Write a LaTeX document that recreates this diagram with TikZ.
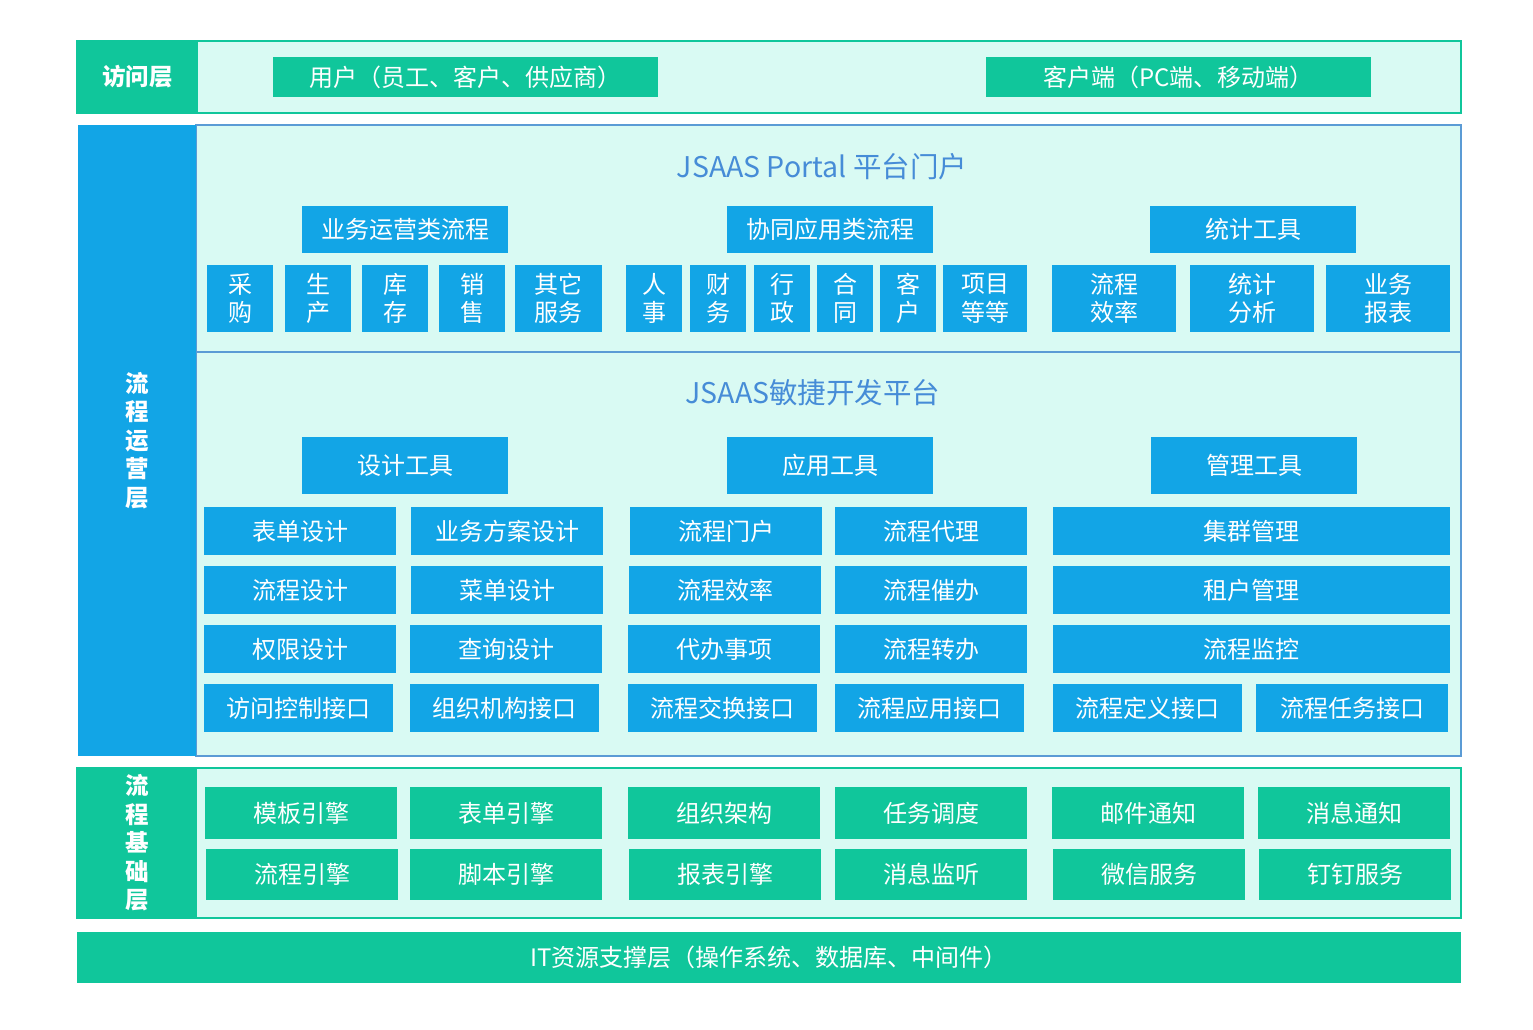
\documentclass[tikz,border=0pt]{standalone}
\usepackage{fontspec}
\setmainfont{Noto Sans CJK SC}
\definecolor{cgreen}{RGB}{16,198,155}
\definecolor{cblue}{RGB}{18,165,230}
\definecolor{clight}{RGB}{217,250,243}
\definecolor{cborder}{RGB}{91,155,213}
\definecolor{ctitle}{RGB}{70,140,215}
\newcommand\bx[7]{\node[#6, minimum width={(#4-#2)*1pt}, minimum height={(#5-#3)*1pt}] (#1) at ({(#2+#4)/2},{(#3+#5)/2}) {#7};}
\tikzset{
  base/.style={rectangle, inner sep=0pt, outer sep=0pt, align=center},
  gbox/.style={base, fill=cgreen, text=white, font=\fontsize{24}{28}\selectfont},
  bbox/.style={base, fill=cblue, text=white, font=\fontsize{24}{28}\selectfont},
  sbox/.style={base, fill=cblue, text=white, font=\fontsize{24}{28.5}\selectfont},
  gpanel/.style={base, fill=clight, draw=cgreen, line width=2pt},
  bpanel/.style={base, fill=clight, draw=cborder, line width=2pt},
  glabel/.style={base, fill=cgreen, text=white, font=\bfseries\fontsize{23.5}{28.5}\selectfont},
  blabel/.style={base, fill=cblue, text=white, font=\bfseries\fontsize{23.5}{28.5}\selectfont},
  ttl/.style={base, text=ctitle, font=\fontsize{28.5}{32}\selectfont},
}
\begin{document}
\begin{tikzpicture}[x=1pt,y=-1pt]
\useasboundingbox[fill=white] (0,0) rectangle (1533,1029);
% access layer
\bx{accpanel}{77}{41}{1461}{113}{gpanel}{}
\bx{acclabel}{77}{41}{198}{113}{glabel}{访问层}
\bx{users}{273}{57}{658}{97}{gbox}{用户（员工、客户、供应商）}
\bx{clients}{986}{57}{1371}{97}{gbox}{客户端（PC端、移动端）}
% operation layer
\bx{portal}{196}{125}{1461}{352}{bpanel}{}
\bx{devplat}{196}{352}{1461}{756}{bpanel}{}
\bx{oplabel}{78}{125}{196}{756}{blabel}{流\\程\\运\\营\\层}
\node[ttl] (portaltitle) at (822,167) {JSAAS Portal 平台门户};
\node[ttl] (devtitle) at (813,393) {JSAAS敏捷开发平台};
% portal groups
\bx{g1}{302}{206}{508}{253}{bbox}{业务运营类流程}
\bx{g2}{727}{206}{933}{253}{bbox}{协同应用类流程}
\bx{g3}{1150}{206}{1356}{253}{bbox}{统计工具}
\bx{p1}{207}{265}{273}{332}{sbox}{采\\购}
\bx{p2}{285}{265}{351}{332}{sbox}{生\\产}
\bx{p3}{362}{265}{428}{332}{sbox}{库\\存}
\bx{p4}{439}{265}{505}{332}{sbox}{销\\售}
\bx{p5}{515}{265}{602}{332}{sbox}{其它\\服务}
\bx{p6}{626}{265}{682}{332}{sbox}{人\\事}
\bx{p7}{690}{265}{746}{332}{sbox}{财\\务}
\bx{p8}{754}{265}{810}{332}{sbox}{行\\政}
\bx{p9}{817}{265}{873}{332}{sbox}{合\\同}
\bx{p10}{880}{265}{936}{332}{sbox}{客\\户}
\bx{p11}{943}{265}{1027}{332}{sbox}{项目\\等等}
\bx{p12}{1052}{265}{1176}{332}{sbox}{流程\\效率}
\bx{p13}{1190}{265}{1314}{332}{sbox}{统计\\分析}
\bx{p14}{1326}{265}{1450}{332}{sbox}{业务\\报表}
% dev platform
\bx{h1}{302}{437}{508}{494}{bbox}{设计工具}
\bx{h2}{727}{437}{933}{494}{bbox}{应用工具}
\bx{h3}{1151}{437}{1357}{494}{bbox}{管理工具}
\bx{d11}{204}{507}{396}{555}{bbox}{表单设计}
\bx{d12}{411}{507}{603}{555}{bbox}{业务方案设计}
\bx{d21}{204}{566}{396}{614}{bbox}{流程设计}
\bx{d22}{411}{566}{603}{614}{bbox}{菜单设计}
\bx{d31}{204}{625}{396}{673}{bbox}{权限设计}
\bx{d32}{410}{625}{602}{673}{bbox}{查询设计}
\bx{d41}{204}{684}{393}{732}{bbox}{访问控制接口}
\bx{d42}{410}{684}{599}{732}{bbox}{组织机构接口}
\bx{a11}{630}{507}{822}{555}{bbox}{流程门户}
\bx{a12}{835}{507}{1027}{555}{bbox}{流程代理}
\bx{a21}{629}{566}{821}{614}{bbox}{流程效率}
\bx{a22}{835}{566}{1027}{614}{bbox}{流程催办}
\bx{a31}{628}{625}{820}{673}{bbox}{代办事项}
\bx{a32}{835}{625}{1027}{673}{bbox}{流程转办}
\bx{a41}{628}{684}{817}{732}{bbox}{流程交换接口}
\bx{a42}{835}{684}{1024}{732}{bbox}{流程应用接口}
\bx{m1}{1053}{507}{1450}{555}{bbox}{集群管理}
\bx{m2}{1053}{566}{1450}{614}{bbox}{租户管理}
\bx{m3}{1053}{625}{1450}{673}{bbox}{流程监控}
\bx{m41}{1053}{684}{1242}{732}{bbox}{流程定义接口}
\bx{m42}{1256}{684}{1448}{732}{bbox}{流程任务接口}
% foundation layer
\bx{fpanel}{77}{768}{1461}{918}{gpanel}{}
\bx{flabel}{77}{768}{197}{918}{glabel}{流\\程\\基\\础\\层}
\bx{f11}{205}{787}{397}{839}{gbox}{模板引擎}
\bx{f12}{410}{787}{602}{839}{gbox}{表单引擎}
\bx{f13}{628}{787}{820}{839}{gbox}{组织架构}
\bx{f14}{835}{787}{1027}{839}{gbox}{任务调度}
\bx{f15}{1052}{787}{1244}{839}{gbox}{邮件通知}
\bx{f16}{1258}{787}{1450}{839}{gbox}{消息通知}
\bx{f21}{206}{849}{398}{900}{gbox}{流程引擎}
\bx{f22}{410}{849}{602}{900}{gbox}{脚本引擎}
\bx{f23}{629}{849}{821}{900}{gbox}{报表引擎}
\bx{f24}{835}{849}{1027}{900}{gbox}{消息监听}
\bx{f25}{1053}{849}{1245}{900}{gbox}{微信服务}
\bx{f26}{1259}{849}{1451}{900}{gbox}{钉钉服务}
% IT layer
\bx{itlayer}{77}{932}{1461}{983}{gbox}{IT资源支撑层（操作系统、数据库、中间件）}
\end{tikzpicture}
\end{document}
